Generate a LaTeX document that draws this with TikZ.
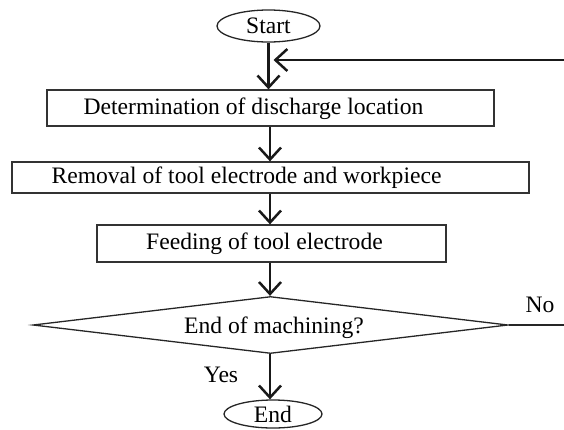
\documentclass[tikz,border=0pt]{standalone}
\usepackage{fontspec}
\setmainfont{Liberation Serif}
\usetikzlibrary{arrows.meta,shapes.geometric}
\begin{document}
\begin{tikzpicture}[x=1pt,y=-1pt,
  every node/.style={font=\fontsize{23.6}{28}\selectfont, inner sep=0pt},
  procbox/.style={draw=black!80, line width=1.3pt, rectangle},
  term/.style={draw=black!85, line width=1.3pt, ellipse},
  decision/.style={draw=black!85, line width=1.3pt, diamond, aspect=8.3},
  flow/.style={draw=black!90, line width=2.5pt,
    -{Straight Barb[length=12pt,width=22pt,line width=2.5pt]}},
  plainline/.style={draw=black!85, line width=1.1pt}
]
\useasboundingbox (0,0) rectangle (564,429);

% terminals
\node[term, minimum width=103pt, minimum height=32pt] (start) at (268.5,26) {Start};
\node[term, minimum width=98pt, minimum height=28pt] (stop) at (273,414) {End};

% process boxes
\node[procbox, minimum width=447pt, minimum height=36pt] (b1) at (270.5,108) {};
\node[procbox, minimum width=517pt, minimum height=31pt] (b2) at (270.5,177.5) {};
\node[procbox, minimum width=349pt, minimum height=37pt] (b3) at (271.5,243.5) {};
\node (t1) at (253.5,109) {Determination of discharge location};
\node (t2) at (246.5,178) {Removal of tool electrode and workpiece};
\node (t3) at (264.5,244) {Feeding of tool electrode};

% decision
\node[decision, minimum width=475pt, minimum height=57pt] (dec) at (270.5,325) {};
\node (td) at (274,328) {End of machining?};

% labels
\node (yes) at (221,375) {Yes};
\node (no) at (540,305) {No};

% loose ends of the return path
\coordinate (fbin) at (564,60);
\coordinate (noout) at (564,325);

% connectors
\draw[flow] (start.south) -- (start.south |- b1.north);
\draw[flow] (fbin) -- (fbin -| start.south) [shorten >=5pt];
\draw[flow] (b1.south -| 270,0) -- (b2.north -| 270,0);
\draw[flow] (b2.south -| 270,0) -- (b3.north -| 270,0);
\draw[flow] (b3.south -| 270,0) -- (dec.north -| 270,0);
\draw[flow] (dec.south -| 270,0) -- (stop.north -| 270,0);
\draw[plainline] (dec.east) -- (noout);
\end{tikzpicture}
\end{document}
